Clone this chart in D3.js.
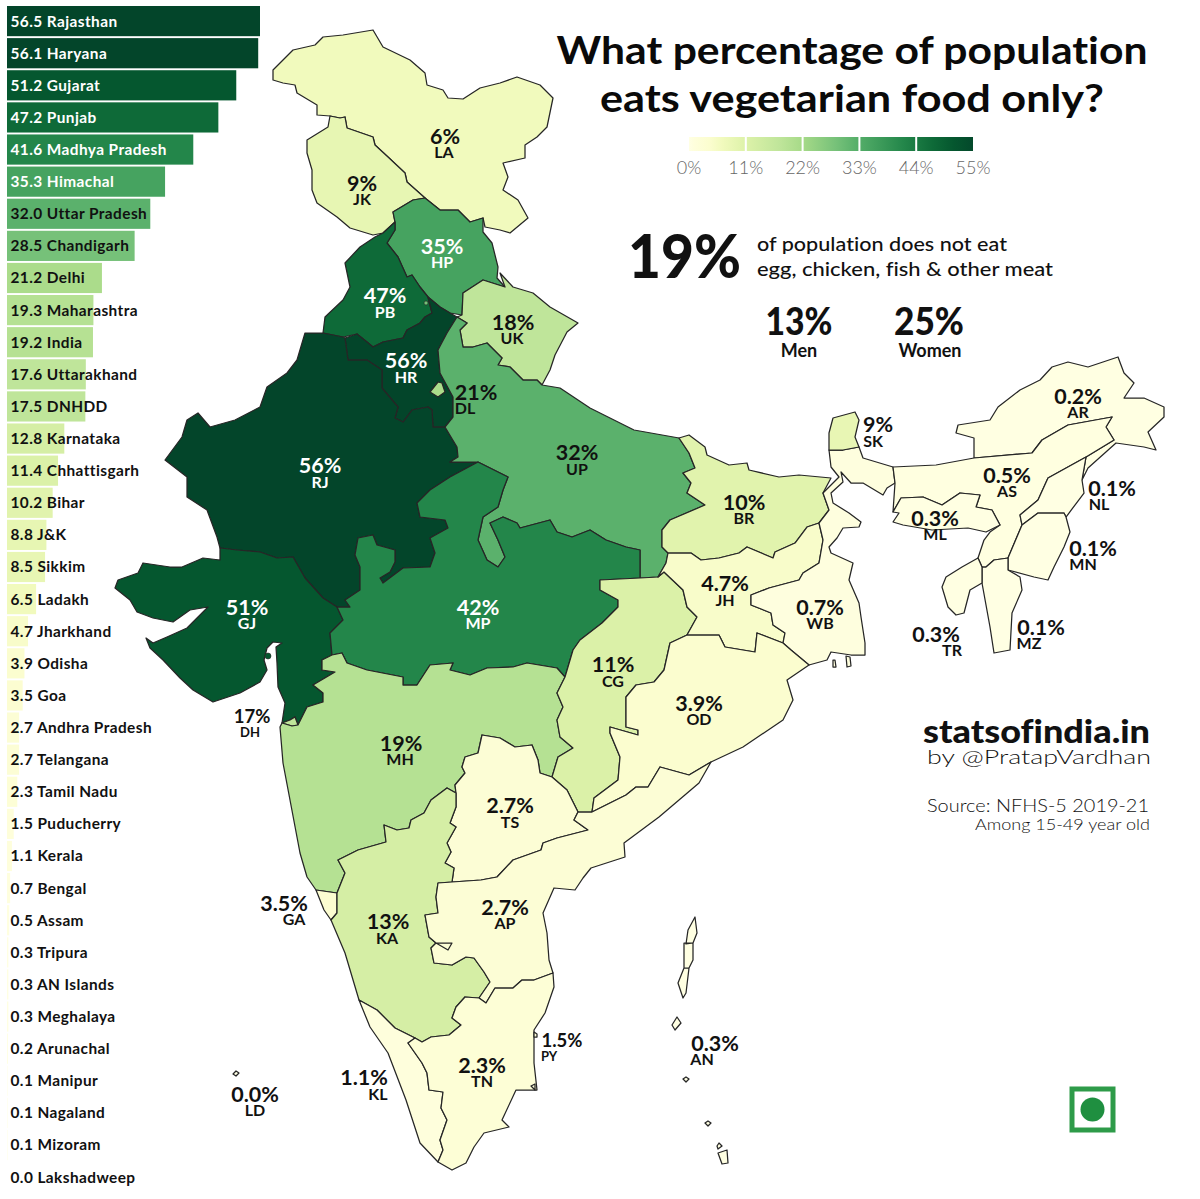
<!DOCTYPE html>
<html><head><meta charset="utf-8">
<style>html,body{margin:0;padding:0;background:#fff}svg{display:block}text{font-family:Lato,"Open Sans",sans-serif;font-variant-ligatures:none}</style>
<script src="https://cdn.jsdelivr.net/npm/d3@7"></script></head><body>
<svg id="c" width="1200" height="1199"></svg>
<script>
// ---------- data ----------
const barNames=["Rajasthan","Haryana","Gujarat","Punjab","Madhya Pradesh","Himachal","Uttar Pradesh","Chandigarh","Delhi","Maharashtra","India","Uttarakhand","DNHDD","Karnataka","Chhattisgarh","Bihar","J&K","Sikkim","Ladakh","Jharkhand","Odisha","Goa","Andhra Pradesh","Telangana","Tamil Nadu","Puducherry","Kerala","Bengal","Assam","Tripura","AN Islands","Meghalaya","Arunachal","Manipur","Nagaland","Mizoram","Lakshadweep"];
const barValues=[56.5,56.1,51.2,47.2,41.6,35.3,32.0,28.5,21.2,19.3,19.2,17.6,17.5,12.8,11.4,10.2,8.8,8.5,6.5,4.7,3.9,3.5,2.7,2.7,2.3,1.5,1.1,0.7,0.5,0.3,0.3,0.3,0.2,0.1,0.1,0.1,0.0];
const legendTicks=[0,11,22,33,44,55];
const regionCodes=["LA","JK","HP","PB","HR","UK","DL","RJ","UP","GJ","MP","DH","MH","CG","TS","BR","JH","WB","OD","SK","AR","AS","ML","NL","MN","MZ","TR","GA","KA","AP","KL","TN","PY","AN","LD"];
const regionValues=[6.5,8.8,35.3,47.2,56.1,17.6,21.2,56.5,32.0,51.2,41.6,17.5,19.3,11.4,2.7,10.2,4.7,0.7,3.9,8.5,0.2,0.5,0.3,0.1,0.1,0.1,0.3,3.5,12.8,2.7,1.1,2.3,1.5,0.3,0.0];
const regionLabels=["6%","9%","35%","47%","56%","18%","21%","56%","32%","51%","42%","17%","19%","11%","2.7%","10%","4.7%","0.7%","3.9%","9%","0.2%","0.5%","0.3%","0.1%","0.1%","0.1%","0.3%","3.5%","13%","2.7%","1.1%","2.3%","1.5%","0.3%","0.0%"];
// traced state outlines (map units)
const regionOutlines={
LA:[[[273,70],[293,50],[315,45],[323,37],[343,35],[373,30],[383,47],[410,60],[425,73],[427,85],[443,90],[448,98],[463,99],[480,88],[500,83],[517,77],[540,85],[553,98],[547,127],[537,137],[525,145],[525,158],[503,163],[508,177],[503,190],[518,200],[528,218],[510,233],[500,230],[485,227],[483,218],[470,222],[458,210],[440,210],[425,198],[407,182],[405,173],[388,157],[375,145],[373,137],[347,128],[345,117],[340,118],[330,116],[317,115],[317,105],[297,93],[295,85],[283,83],[273,80]]],
JK:[[[330,116],[328,127],[307,140],[307,153],[312,170],[312,190],[317,203],[337,217],[350,228],[373,235],[383,233],[395,222],[393,212],[413,200],[425,198],[407,182],[405,173],[388,157],[375,145],[373,137],[347,128],[345,117],[340,118]]],
HP:[[[393,212],[413,200],[425,198],[440,210],[458,210],[470,222],[483,218],[483,232],[492,243],[498,267],[497,278],[505,287],[483,280],[463,293],[462,315],[450,313],[440,307],[428,297],[420,287],[412,275],[407,277],[398,257],[387,243],[395,230],[395,222]]],
PB:[[[395,230],[387,243],[398,257],[407,277],[412,275],[420,287],[428,297],[432,313],[425,317],[420,323],[407,330],[403,338],[383,342],[373,347],[367,342],[357,334],[343,337],[323,333],[325,317],[343,300],[350,287],[345,263],[360,247],[375,237],[383,233],[395,222]]],
HR:[[[428,297],[440,307],[450,313],[457,317],[447,333],[438,350],[440,373],[453,397],[453,417],[445,427],[433,427],[432,410],[428,407],[412,410],[403,422],[395,418],[398,407],[382,388],[382,370],[367,360],[348,360],[345,338],[357,334],[367,342],[373,347],[383,342],[403,338],[407,330],[420,323],[425,317],[432,313]]],
UK:[[[500,273],[513,287],[533,293],[550,307],[578,323],[567,332],[555,355],[550,370],[542,385],[537,380],[523,380],[510,367],[498,365],[502,358],[487,343],[473,347],[463,347],[460,330],[467,323],[457,317],[462,315],[463,293],[483,280],[505,287]]],
DL:[[[438,382],[430,392],[438,397],[445,392],[442,383]]],
RJ:[[[323,333],[305,333],[297,360],[287,373],[267,387],[260,407],[235,420],[210,427],[198,413],[187,420],[182,437],[165,460],[187,477],[187,497],[207,510],[217,537],[220,548],[237,550],[260,552],[277,558],[293,557],[305,578],[323,598],[337,607],[350,607],[345,600],[360,590],[360,567],[355,555],[358,538],[373,535],[377,545],[395,550],[395,562],[390,572],[380,578],[383,583],[403,568],[430,567],[435,553],[430,538],[448,528],[445,520],[420,517],[417,503],[430,490],[450,477],[478,462],[450,462],[458,457],[457,447],[445,427],[433,427],[432,410],[428,407],[412,410],[403,422],[395,418],[398,407],[382,388],[382,370],[367,360],[348,360],[345,338],[343,337]]],
UP:[[[457,317],[467,323],[460,330],[463,347],[473,347],[487,343],[502,358],[498,365],[510,367],[523,380],[537,380],[542,385],[560,388],[590,408],[634,430],[679,438],[689,453],[695,468],[683,473],[691,483],[687,493],[705,505],[670,520],[662,530],[662,547],[668,553],[666,563],[658,577],[640,578],[640,550],[626,547],[606,540],[590,530],[572,537],[557,532],[550,520],[520,528],[517,523],[503,517],[490,523],[498,540],[505,557],[498,567],[487,560],[478,540],[483,517],[498,507],[503,490],[508,477],[478,462],[450,462],[458,457],[457,447],[445,427],[453,417],[453,397],[440,373],[438,350],[447,333]]],
GJ:[[[220,548],[220,560],[203,558],[182,567],[170,567],[143,563],[138,573],[118,580],[115,588],[130,600],[137,612],[153,618],[173,622],[190,610],[208,607],[198,617],[187,628],[167,637],[153,643],[146,638],[150,648],[163,660],[180,678],[193,690],[213,702],[240,693],[260,682],[267,670],[264,660],[267,648],[273,642],[282,643],[276,647],[277,663],[278,687],[285,703],[282,723],[290,720],[295,717],[298,725],[307,707],[323,702],[323,693],[313,685],[335,672],[322,670],[322,660],[332,655],[330,633],[343,620],[337,607],[323,598],[305,578],[293,557],[277,558],[260,552],[237,550]]],
MP:[[[417,503],[420,517],[445,520],[448,528],[430,538],[435,553],[430,567],[403,568],[383,583],[380,578],[390,572],[395,562],[395,550],[377,545],[373,535],[358,538],[355,555],[360,567],[360,590],[345,600],[350,607],[337,607],[343,620],[330,633],[332,655],[342,653],[347,663],[367,670],[403,677],[403,685],[417,685],[430,665],[453,663],[450,670],[470,675],[487,668],[513,667],[527,663],[557,668],[565,677],[573,650],[580,640],[602,623],[618,607],[618,600],[600,590],[600,580],[640,578],[640,550],[626,547],[606,540],[590,530],[572,537],[557,532],[550,520],[520,528],[517,523],[503,517],[490,523],[498,540],[505,557],[498,567],[487,560],[478,540],[483,517],[498,507],[503,490],[508,477],[478,462],[450,477],[430,490]]],
DH:[[[282,723],[290,720],[295,717],[298,725],[292,726]]],
MH:[[[322,670],[322,660],[332,655],[342,653],[347,663],[367,670],[403,677],[403,685],[417,685],[430,665],[453,663],[450,670],[470,675],[487,668],[513,667],[527,663],[557,668],[565,677],[557,693],[563,707],[557,720],[560,737],[573,748],[558,757],[552,777],[540,773],[538,760],[532,745],[515,747],[500,738],[482,735],[478,753],[465,757],[462,767],[465,773],[455,785],[456,793],[447,788],[431,800],[424,813],[411,820],[409,828],[397,830],[384,825],[386,842],[358,850],[338,860],[345,873],[337,893],[316,890],[307,877],[300,853],[290,800],[283,763],[280,727],[282,723],[292,726],[298,725],[307,707],[323,702],[323,693],[313,685],[335,672]]],
CG:[[[600,580],[640,578],[658,577],[664,572],[683,590],[687,607],[697,617],[687,635],[670,643],[664,670],[654,682],[636,685],[626,697],[626,727],[638,730],[638,735],[610,727],[610,733],[620,757],[618,780],[594,798],[592,812],[578,812],[567,790],[552,777],[558,757],[573,748],[560,737],[557,720],[563,707],[557,693],[565,677],[573,650],[580,640],[602,623],[618,607],[618,600],[600,590]]],
TS:[[[482,735],[500,738],[515,747],[532,745],[538,760],[540,773],[552,777],[567,790],[578,812],[574,820],[588,830],[557,838],[543,843],[541,850],[513,860],[497,877],[481,880],[452,882],[454,868],[445,863],[451,852],[447,843],[456,827],[450,823],[456,807],[456,793],[455,785],[465,773],[462,767],[465,757],[478,753]]],
BR:[[[689,435],[705,447],[707,455],[729,465],[747,463],[749,470],[779,477],[799,475],[831,478],[823,493],[829,510],[819,523],[807,527],[795,543],[775,552],[773,558],[747,547],[739,553],[719,558],[701,560],[691,553],[668,553],[662,547],[662,530],[670,520],[705,505],[687,493],[691,483],[683,473],[695,468],[689,453],[679,438]]],
JH:[[[668,553],[691,553],[701,560],[719,558],[739,553],[747,547],[773,558],[775,552],[795,543],[807,527],[819,523],[823,540],[819,563],[803,573],[799,580],[769,588],[751,595],[751,605],[771,613],[773,625],[785,633],[783,643],[757,633],[755,652],[725,647],[719,635],[687,635],[697,617],[687,607],[683,590],[664,572],[658,577],[666,563]]],
WB:[[[751,595],[769,588],[799,580],[803,573],[819,563],[823,540],[819,523],[829,510],[823,493],[839,477],[831,467],[829,450],[843,450],[859,447],[863,458],[893,467],[895,483],[887,488],[883,495],[863,483],[851,483],[841,472],[843,482],[831,493],[833,503],[849,513],[861,522],[859,527],[843,528],[837,538],[829,547],[831,553],[853,563],[849,580],[859,603],[861,617],[865,643],[865,655],[851,655],[831,652],[827,660],[809,665],[791,650],[783,643],[785,633],[773,625],[771,613],[751,605]],[[846,656],[850,657],[851,666],[847,667]],[[833,660],[835,660],[836,667],[833,667]]],
OD:[[[687,635],[719,635],[725,647],[755,652],[757,633],[783,643],[791,650],[809,665],[787,680],[793,700],[783,720],[743,747],[711,762],[689,775],[660,767],[648,787],[636,787],[626,795],[592,812],[594,798],[618,780],[620,757],[610,733],[610,727],[638,735],[638,730],[626,727],[626,697],[636,685],[654,682],[664,670],[670,643]]],
SK:[[[833,418],[855,412],[859,420],[855,437],[859,447],[843,450],[829,450],[829,433]]],
AR:[[[974,458],[974,438],[956,433],[958,425],[990,420],[998,407],[1020,390],[1040,380],[1052,367],[1068,362],[1088,367],[1118,357],[1124,373],[1134,383],[1124,398],[1144,398],[1164,407],[1164,417],[1148,432],[1156,450],[1144,447],[1116,443],[1088,468],[1082,480],[1086,457],[1114,440],[1106,427],[1112,417],[1068,425],[1042,440],[1032,453]]],
AS:[[[893,467],[936,465],[974,458],[1032,453],[1042,440],[1068,425],[1112,417],[1106,427],[1114,440],[1086,457],[1048,478],[1038,500],[1020,515],[1022,525],[1008,558],[994,560],[986,567],[982,567],[978,558],[984,540],[990,532],[1000,525],[992,510],[976,507],[980,495],[960,493],[942,505],[923,497],[901,498],[893,512],[895,483]]],
ML:[[[901,498],[923,497],[942,505],[960,493],[980,495],[976,507],[992,510],[1000,525],[986,532],[968,528],[932,530],[903,525],[893,522],[899,513],[893,512]]],
NL:[[[1086,457],[1048,478],[1038,500],[1020,515],[1022,525],[1038,513],[1064,513],[1066,517],[1084,493],[1082,480]]],
MN:[[[1022,525],[1038,513],[1064,513],[1066,517],[1070,532],[1064,547],[1054,567],[1048,580],[1034,577],[1008,570],[1008,558]]],
MZ:[[[994,560],[1008,558],[1008,570],[1020,577],[1022,590],[1012,613],[1010,650],[994,653],[990,627],[982,583],[982,567],[986,567]]],
TR:[[[978,558],[982,567],[982,583],[970,590],[964,613],[956,615],[948,607],[942,587],[946,577],[962,567]]],
GA:[[[316,890],[337,893],[337,913],[331,920],[324,910]]],
KA:[[[447,788],[456,793],[456,807],[450,823],[456,827],[447,843],[451,852],[445,863],[454,868],[452,882],[438,883],[436,897],[438,913],[425,915],[429,937],[436,943],[431,948],[434,963],[452,965],[466,957],[474,958],[484,972],[490,982],[479,998],[465,997],[456,1007],[452,1018],[461,1025],[449,1035],[431,1037],[422,1042],[415,1038],[395,1028],[377,1010],[359,1000],[345,953],[331,920],[337,913],[337,893],[345,873],[338,860],[358,850],[386,842],[384,825],[397,830],[409,828],[411,820],[424,813],[431,800]]],
AP:[[[578,812],[592,812],[626,795],[636,787],[648,787],[660,767],[689,775],[711,762],[699,783],[659,817],[624,843],[625,857],[591,868],[583,878],[575,890],[554,888],[543,913],[547,933],[549,960],[553,973],[534,980],[522,980],[513,988],[495,988],[486,1003],[479,998],[490,982],[484,972],[474,958],[466,957],[452,965],[434,963],[431,948],[436,943],[452,943],[448,950],[436,943],[429,937],[425,915],[438,913],[436,897],[438,883],[452,882],[481,880],[497,877],[513,860],[541,850],[543,843],[557,838],[588,830],[574,820]]],
KL:[[[359,1000],[377,1010],[395,1028],[415,1038],[408,1043],[415,1053],[422,1063],[427,1073],[429,1090],[443,1092],[441,1108],[447,1120],[440,1140],[443,1150],[438,1162],[420,1143],[406,1100],[388,1053],[370,1027]]],
TN:[[[553,973],[554,987],[545,1013],[534,1030],[534,1063],[537,1090],[516,1090],[502,1120],[509,1127],[484,1133],[474,1147],[466,1163],[452,1170],[438,1162],[443,1150],[440,1140],[447,1120],[441,1108],[443,1092],[429,1090],[427,1073],[422,1063],[415,1053],[408,1043],[415,1038],[422,1042],[431,1037],[449,1035],[461,1025],[452,1018],[456,1007],[465,997],[479,998],[486,1003],[495,988],[513,988],[522,980],[534,980]]],
PY:[[[534,1032],[537,1034],[537,1037],[534,1037]],[[531,1086],[535,1084],[535,1090]]],
AN:[[[695,917],[697,933],[693,943],[686,944],[688,930]],[[693,943],[693,960],[689,968],[684,968],[684,943]],[[689,968],[686,993],[683,998],[678,983],[684,968]],[[677,1017],[681,1023],[675,1030],[672,1025]],[[686,1077],[689,1079],[686,1082],[683,1079]],[[708,1121],[711,1123],[708,1126],[705,1123]],[[719,1143],[722,1146],[718,1149],[717,1146]],[[718,1153],[727,1150],[728,1163],[722,1164]]],
LD:[[[236,1071],[239,1073],[236,1076],[233,1074]]]
};
// ---------- label placement ----------
const pctAnchor={LA:[445,136],JK:[362,183],HP:[442,246],PB:[385,295],HR:[406,360],UK:[513,322],DL:[476,392],RJ:[320,465],UP:[577,452],GJ:[247,607],MP:[478,607],DH:[252,716],MH:[401,743],CG:[613,664],TS:[510,805],BR:[744,502],JH:[725,583],WB:[820,607],OD:[699,703],SK:[878,424],AR:[1078,396],AS:[1007,475],ML:[935,518],NL:[1112,488],MN:[1093,548],MZ:[1041,627],TR:[936,634],GA:[284,903],KA:[388,921],AP:[505,907],KL:[364,1077],TN:[482,1065],PY:[562,1040],AN:[715,1043],LD:[255,1094]};
const codeAnchor={LA:[444,152],JK:[362,199],HP:[442,262],PB:[385,312],HR:[406,377],UK:[512,338],DL:[465,408],RJ:[320,482],UP:[577,469],GJ:[247,623],MP:[478,623],DH:[250,732],MH:[400,759],CG:[613,681],TS:[510,822],BR:[744,518],JH:[725,600],WB:[820,623],OD:[699,719],SK:[873,441],AR:[1078,412],AS:[1007,491],ML:[935,534],NL:[1099,504],MN:[1083,564],MZ:[1029,643],TR:[952,650],GA:[294,919],KA:[387,938],AP:[505,923],KL:[378,1094],TN:[482,1081],PY:[549,1056],AN:[702,1059],LD:[255,1110]};
const whiteLabels=new Set(["HP","PB","HR","RJ","GJ","MP"]);
const smallLabels=new Set(["DH","PY"]);

// ---------- scales ----------
const colorDomain=[0,1,4,6.5,11,17.6,22,28.5,33,41.6,47.2,51.2,56];
const colorRange=["#ffffe4","#fefedc","#fbfdcf","#f1fabd","#ddf2a9","#bfe59a","#a6da88","#76c179","#53ad68","#23864a","#0e6a38","#05572f","#03452a"];
const color=d3.scaleLinear().domain(colorDomain).range(colorRange).clamp(true);
const svg=d3.select("#c");
const defaultFill="#111";

// ---------- bars ----------
const barX=d3.scaleLinear().domain([0,56.5]).range([7,260]);
const barY=d3.scaleBand().domain(barNames).range([6,6+32.06*37]).paddingInner(0.06).paddingOuter(0);
const bars=svg.append("g");
bars.selectAll("rect").data(barNames).join("rect")
 .attr("x",barX(0)).attr("y",d=>barY(d)).attr("height",barY.bandwidth())
 .attr("width",(d,i)=>barX(barValues[i])-barX(0))
 .attr("fill",(d,i)=>color(barValues[i]));
bars.selectAll("text").data(barNames).join("text")
 .attr("x",10.5).attr("y",d=>barY(d)+barY.bandwidth()/2+1.5)
 .attr("dominant-baseline","middle")
 .attr("font-size",15.4).attr("font-weight",700).attr("letter-spacing",0.42)
 .attr("fill",(d,i)=>barValues[i]>33?"#fff":"#111")
 .text((d,i)=>barValues[i].toFixed(1)+" "+d);

// ---------- map ----------
const path=d3.geoPath(d3.geoIdentity());
const features=regionCodes.map((c,i)=>({type:"Feature",properties:{code:c,value:regionValues[i]},geometry:{type:"MultiPolygon",coordinates:regionOutlines[c].map(r=>[r.concat([r[0]])])}}));
svg.append("g").selectAll("path").data(features).join("path")
 .attr("d",path).attr("fill",d=>color(d.properties.value))
 .attr("stroke","#262626").attr("stroke-width",1.25).attr("stroke-linejoin","round");
svg.append("circle").attr("cx",426).attr("cy",303).attr("r",2).attr("fill",color(28.5)).attr("stroke","#262626").attr("stroke-width",.6);
svg.append("circle").attr("cx",268).attr("cy",656).attr("r",3).attr("fill",color(51.2)).attr("stroke","#262626").attr("stroke-width",.6);

const lab=svg.append("g").attr("text-anchor","middle");
regionCodes.forEach((c,i)=>{
 const f=whiteLabels.has(c)?"#fff":defaultFill, s=smallLabels.has(c);
 lab.append("text").attr("x",pctAnchor[c][0]).attr("y",pctAnchor[c][1]+2).attr("dominant-baseline","middle")
  .attr("font-size",s?18.5:21.5).attr("font-weight",700).attr("fill",f).text(regionLabels[i]);
 lab.append("text").attr("x",codeAnchor[c][0]).attr("y",codeAnchor[c][1]+1.5).attr("dominant-baseline","middle")
  .attr("font-size",s?13:16).attr("font-weight",700).attr("fill",f).text(c);
});

// ---------- title ----------
function t(x,y,s,o={}){const e=svg.append("text").attr("x",x).attr("y",y).attr("font-size",o.size||16).attr("font-weight",o.w||400).attr("fill",o.fill||"#111").attr("text-anchor",o.a||"start").text(s);
 if(o.len)e.attr("textLength",o.len).attr("lengthAdjust","spacingAndGlyphs");return e;}
t(852,64,"What percentage of population",{size:38,w:700,a:"middle",len:591,fill:"#0a0a0a"});
t(852,112,"eats vegetarian food only?",{size:38,w:700,a:"middle",len:504,fill:"#0a0a0a"});

// ---------- legend ----------
const legX=d3.scaleLinear().domain([0,55]).range([689,973]);
const defs=svg.append("defs");
const grad=defs.append("linearGradient").attr("id","lg");
colorDomain.filter(v=>v<=55).concat([55]).forEach(v=>grad.append("stop").attr("offset",(v/55*100)+"%").attr("stop-color",color(v)));
svg.append("rect").attr("x",legX(0)).attr("y",137).attr("width",legX(55)-legX(0)).attr("height",14).attr("fill","url(#lg)");
svg.selectAll(".sep").data(legendTicks.slice(1,5)).join("rect").attr("class","sep").attr("x",d=>legX(d)-1).attr("y",137).attr("width",2).attr("height",14).attr("fill","#fff");
svg.selectAll(".lt").data(legendTicks).join("text").attr("class","lt").attr("x",d=>legX(d)).attr("y",170).attr("dominant-baseline","middle")
 .attr("text-anchor","middle").attr("font-size",18).attr("font-weight",300).attr("fill","#666").text(d=>d+"%");

// ---------- callouts ----------
t(684.5,278,"19%",{size:60,w:900,a:"middle",len:113});
t(757,251,"of population does not eat",{size:19,w:500,len:250});
t(757,276,"egg, chicken, fish & other meat",{size:19,w:500,len:296});
t(799,335,"13%",{size:37,w:900,a:"middle",len:67});
t(929,335,"25%",{size:37,w:900,a:"middle",len:70});
t(799,357,"Men",{size:18,w:700,a:"middle"});
t(930,357,"Women",{size:18,w:700,a:"middle"});

// ---------- credits ----------
t(923,743,"statsofindia.in",{size:32,w:900,len:227});
t(927,764,"by @PratapVardhan",{size:20,w:300,len:224});
t(927,812,"Source: NFHS-5 2019-21",{size:18,w:300,len:222});
t(975,830,"Among 15-49 year old",{size:16,w:300,len:175});

// ---------- emblem ----------
svg.append("rect").attr("x",1072).attr("y",1089).attr("width",41).attr("height",41).attr("fill","#fff").attr("stroke","#2e9b49").attr("stroke-width",5);
svg.append("circle").attr("cx",1092.5).attr("cy",1109.5).attr("r",12).attr("fill","#1f8f40");
</script></body></html>
